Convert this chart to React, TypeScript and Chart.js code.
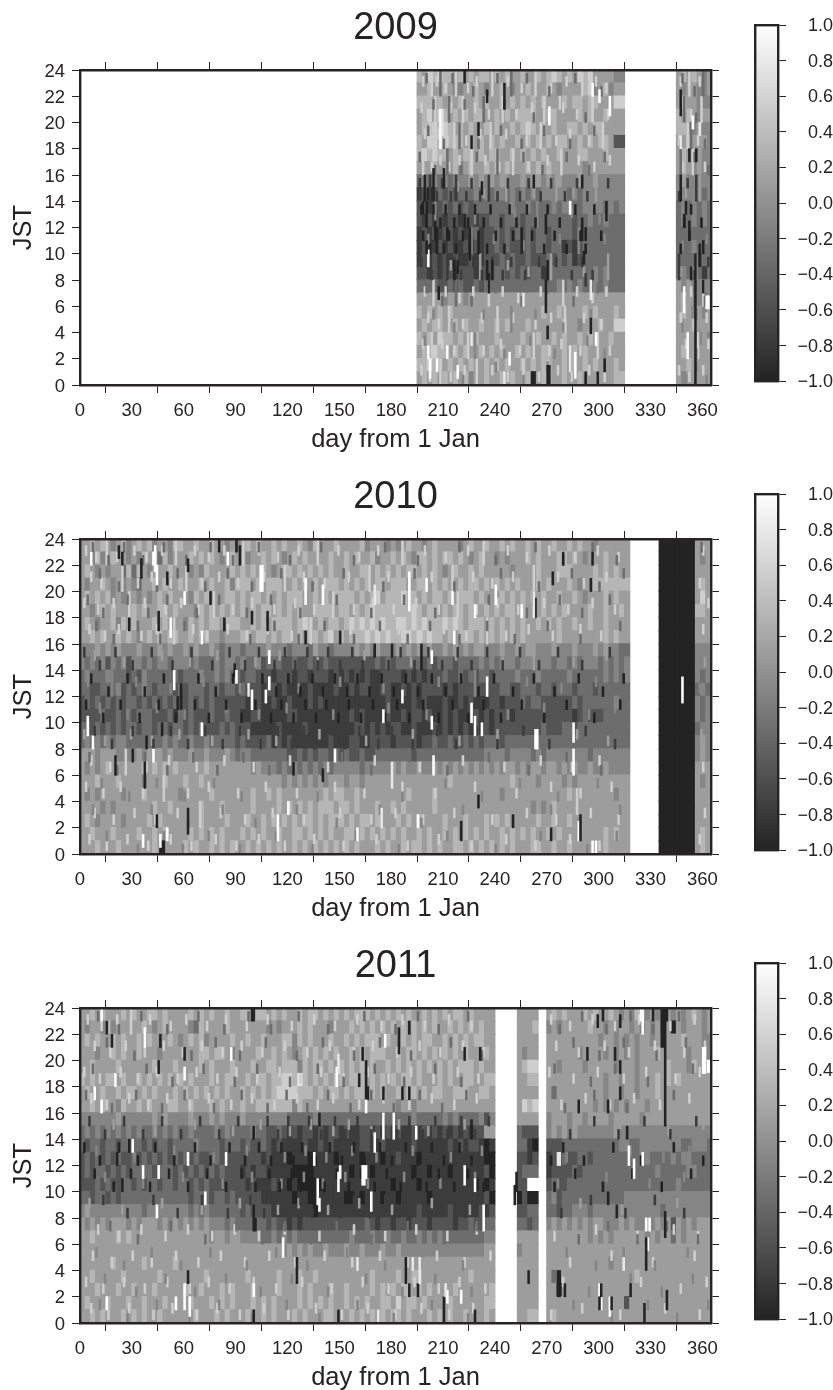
import React, { useEffect, useRef } from "react";
import { Chart, registerables } from "chart.js";
Chart.register(...registerables);

const DAY_TICKS = [0, 30, 60, 90, 120, 150, 180, 210, 240, 270, 300, 330, 360];
const HOUR_TICKS = [0, 2, 4, 6, 8, 10, 12, 14, 16, 18, 20, 22, 24];
const BAR_TICKS = [-1, -0.8, -0.6, -0.4, -0.2, 0, 0.2, 0.4, 0.6, 0.8, 1];
const YEARS = ["2009", "2010", "2011"];
const GRAYS = [35, 60, 84, 109, 133, 157, 182, 206, 231, 255];
const COLUMN_DAYS = 3;

// Rows run from hour 23 (top) down to hour 0. Each digit is a grey level 0-9 for a 3-day column.
const ROWS_2009_A = [
"6576766565 6566565655 6556567656 5767555544","5565565445 5654556545 5655565455 5567456455",
"6665656565 5656556565 6565655565 6656655577","5675765656 5665565656 6665566555 5656556555",
"5667676565 6556565565 6765656556 6565665555","6577676665 6565656556 5656565665 5656566522",
"6767665656 6565665565 6565655655 5665556555","5556555645 6556565655 5656565555 5545555555",
"3434343444 5454545444 5455454544 4544544444","1202323233 3434344343 4343444443 4344444444",
"2312232323 2333333343 3433334344 3344443434","2121212212 2122332333 2333333333 2334334333",
"1212122121 2312232323 2323323333 2333333333","1211212112 1212232322 2323323312 1233333333",
"1212121211 2112223232 2322232323 1233333333","2212122122 2122233232 3233133333 3333434333",
"3333223232 2323333333 3333333434 3433434333","5555545554 5555555555 5555555555 5555555555",
"6565656555 5555555555 5555655655 5565655565","5656655656 5565565655 5655555565 5455565577",
"6565766565 5655565555 6556556565 5656555655","5657665656 5565656556 5655665565 6565555555",
"6676656565 6556565655 6565665565 6565655565","5656565656 4556556565 5605665565 5655555566"];
const ROWS_2009_B = ["5656545","5455445","5655444","6565455","6654544","5565554","5655544","5654544",
"4544444","4444434","3434343","3434343","3333333","3334333","3333233","3434313","5454444","5655434",
"5654545","5556555","5555454","5655555","5565555","5455555"];

const ROWS_2010_A = [
"5565654564 5656455466 5565565545 4565655656 5565465556 5555645554 5456554565 5554565565 5656556565 5655656554 555555",
"5546456554 5465636455 5656565456 5545565654 5656555565 5656556455 6565466565 6656545655 4545556565 5566565455 565555",
"5654545536 3654555655 5454655556 5656565456 6565656565 5655665656 5656656565 4565565655 5554555565 5566655556 565655",
"5455654545 4355656556 5556565564 6665656665 5656565666 5656565665 6665566565 6556566565 6565655565 6555654556 666666",
"5656564545 5454565655 5465655566 5656656565 6665565656 6665656756 6676656566 5656665655 5656565656 5565565455 565655",
"5545656555 6565566565 5546565656 5656566565 6565566665 6656567666 6666765665 6566565565 6566565556 5656555565 565565",
"5654556465 6555656555 4656566566 6556565666 6567656566 5676767676 6776767666 7676566656 5656565565 6565565565 565555",
"5565655656 5456565665 5656655455 5665665656 6565665675 6566676767 6677676766 5656665656 5656565555 5565555555 565655",
"4445454544 4544454544 5454454344 4344445444 3444354434 4445454544 4545454544 5454545544 4544545544 4544454445 454433",
"4343424342 4434344344 4343334344 3433423332 2322322322 2222222323 2333332323 3323333434 3444344444 4344343444 343434",
"3433343332 3243333332 3334334343 3233222122 2122122212 1212121122 2212121222 3223232332 3333433343 3333433333 343434",
"3322333423 2343233323 2333233233 2322212212 1111211112 1121221122 1121212222 1212222222 2332233323 3233323332 333333",
"2323232323 3232323232 2323232222 2212211211 2111212111 1111111112 1111212111 2112121112 2122232332 2222232333 333433",
"2222322323 2333222313 2322232232 2112211111 2211111111 1121211112 1121221211 2121122121 2221222222 2222212322 233333",
"3323232323 3233233233 2323222323 2221111121 1112111111 1112212121 2211211121 2121212121 2222222223 2223323333 333333",
"3434343443 3333334343 3433433333 2322223121 2111111121 1122112222 1222212232 2322323233 3233333333 3333333333 333333",
"5554555444 4545554544 4544544454 3443333333 2232323323 2322322333 3333233333 3333333344 4434444343 4444444434 444444",
"5454565555 5565656565 5555655555 5554544434 3434343434 4444344444 5454454454 5454545454 5455454554 5545454454 454444",
"5556555655 5545556555 6556555555 5555555554 5454545455 5455455555 5555555555 5655555555 5556555545 5554545555 555555",
"5454555545 5565555554 5555565555 5556556565 5555555656 6556555555 5556555565 5555555555 5455555555 5555655555 555455",
"5555454555 5555655655 5556555655 5556555565 6565656665 6656555655 6565555565 5555555555 5555555454 5655555555 555555",
"5654555545 5556565555 5556555565 5565565656 5656656566 6565665655 5656565555 6555655565 6565555565 5655655555 555555",
"5565556555 5655656555 5656565655 5656565565 5665656565 5665656565 6565565655 6565656565 5656565655 6565555555 565655",
"5556555655 5555655555 6565565656 5565656565 5656565656 5656555656 5565665656 5566565656 5656555665 5655655555 565555"];
const ROWS_2010_B = ["0000000","0000000","0000000","0000000","0000000","0000000","0000000","0000000","0000000","0000000","0000000","0000000","0000000","0000000","0000000","0000000","0000000","0000000","0000000","0000000","0000000","0000000","0000000","0000000"];
const ROWS_2010_C = ["555","545","555","565","575","665","555","555","444","444","434","343","434","434","344","454","454","555","545","555","555","555","565","565"];

const ROWS_2011_A = [
"5565655565 6556656555 5656565565 5665665656 5565665656 5656665656 5656556565 6566565555",
"5455464555 5565456555 5436555565 5555554545 5565655545 5565656565 6565656565 5656565655",
"5656556565 5656555654 5656455556 5565565556 6465655565 5656566656 5565656655 6565656655",
"5554556565 5655545555 5556656654 5555655656 5456565656 5565656665 5656656565 6565655565",
"5565555655 5555655565 5556565556 5556556656 6646566565 6565656556 5656565656 5656665655",
"6565566565 5656565656 5655565566 5565665667 7686565656 6566656565 6566565556 5655665566",
"5655655656 6565655565 6565656565 5656565677 7766656566 5656656565 5656656566 5566655665",
"5565655465 5656555665 5655565655 5655666666 6465555555 5555555555 5455455555 5555555555",
"4444444544 4444545444 4544454544 4544444444 3333343333 3333333333 3333433333 4343333424",
"3434343434 3433434343 3433334343 3334332232 1212212122 1211221212 1211212121 2121212255",
"3233233233 3323233233 3343333233 3232232121 1112112121 1111221121 1111211111 1212122101",
"2323232322 3232323232 3232233222 2222212111 0111011110 1111011101 1211101111 1111111100",
"2323323232 3333233323 2323232322 2121221111 1000011111 1101110111 1111011011 1011111120",
"2223232233 2323323323 3232322222 2212111211 0100000111 1111111111 0111101111 1111110101",
"3323323233 3333333333 3233323323 2222211111 1011001111 1001011101 1011111011 1111111120",
"4544444444 4434444444 4343433333 3232222111 1111101111 1111111111 1111121111 1211111212",
"5454545554 5455545454 5454544434 3333332322 1212222222 2222232122 1221222122 2212232233",
"5565555656 5555555555 5555545545 5444433434 3433333333 3343334334 3343343434 3333333344",
"5555555555 5555555555 5555555555 5555555554 5454544544 4544544454 4544444444 4444444455",
"5555556555 5565555565 5555555555 5555555555 5555555555 5555555555 5555555555 5555555555",
"5565555565 5555565555 5555655555 5565555565 5565565555 5555556555 5655665555 5555565555",
"5556555655 6555655555 6556555656 5556555565 5565655565 5655556565 6566565655 5565555556",
"5655565556 5565556555 5655565656 5556565655 5565656565 5656565566 5756656555 5655555566",
"5565655565 6565565555 5565556565 5565565655 5656555665 5565656565 6656555656 5655655565"];
const ROWS_2011_B = ["5555","5556","5555","5455","5677","5566","5555","5767","5555","3222","3310","2212","2333","2299","0200","2233","3323","5555","4555","5555","5555","5555","5555","5566"];
const ROWS_2011_C = [
"5656555656 5565454654 5455454565 45","4545555565 5454554545 4545054555 45","5555555555 4554545455 4565556555 44",
"5555554555 5454545455 5655555455 54","5545555455 5554555455 5556555465 69","5555555555 5455455455 5656565555 55",
"5355555555 5455455455 5655555555 55","5555555554 5454545554 5555555555 55","4555455455 5545555545 5555555555 55",
"4545454444 4445444444 4444444444 44","2223333333 3333443344 4444443344 43","1223223323 3333333344 3333434433 33",
"1222232333 3333333333 3433333443 33","2322333333 3333333333 3333343333 33","3423333333 3333344444 4444444444 44",
"3323344434 4444444444 4434444444 44","4545454545 5444545445 4545254545 55","5555555545 4545555554 5455354555 55",
"5555555555 5555555555 5555555555 55","5555555555 5545555555 5555555555 55","5355555555 5555555655 5555555555 55",
"5505555555 5555555555 5555555555 55","5555555555 5555525555 5555555555 55","5655555555 5555555555 5555555555 55"];

// Narrow single-day marks: [day, hour, hours long, grey level]
const MARKS_2009: number[][] = [
[269,5.5,2.5,0],[270,0,1.5,0],[271,0,1.5,0],[355.5,0,10,0],[295,3.9,1.2,0],[290,11,1,0],[292,11,1,0],[291,9.2,1,0],[292,7.5,1,1],
[283,13,1,9],[201,9,1.3,9],[271,19.8,1.4,9],[362,5.8,1,9],[363,5.8,1,9],[306,20.5,1.5,9],[208,18,3,9],[209,19,2,8],[232,14.5,1,0],[204,14,2.5,0],[199,14,2,0],[210,15,1.5,0],
[269,11.5,1.5,0],[270,8,1.5,0],[235,8,1.5,0],[236,7,1.5,0],[238,8,1.5,0],[216,8,1.5,0],[218,8.5,1,0],[200,10,1,0],[205,11,1.5,0],[212,11,1,0],[222,12,1,0],[225,9.5,2,0],[230,10,1,0],
[198,13,1,0],[245,21,2,0],[235,21.5,1,0],[222,23,1,0],[226,18,1,0],[230,19,1,0],[262,15,1,0],[290,15,1,0],[304,12.5,1.5,0],[277,21,1,7],[300,21.5,1,9],[296,22,1,9],
[256,6,1,8],[226,3,1,8],[206,1,1,9],[212,2,1,9],[248,1.5,1,9],[286,0.5,2,9],[283,1,2,8],[298,3,1,9],[303,1,1,0],[299,0,1,0],[270,3.5,1,0],[292,0,1,0],[245,0,1,8],[218,0.5,1,9],[202,0.5,1.5,9],
[201,2,1,9],[207,6.5,1,0],[295,6.5,1.5,8],[347,14,2,0],[350,13,1,0],[352,17,1,0],[356,17,1,0],[358,9,1,0],[347,18,1,8],[354,19.5,1,9],[358,19,1,8],[347,20.5,2,0],[351,2,2,9],[349,5.5,2,9],[360,10,1,0],
[349,12,1,0],[352,11,1.5,0],[353,8,1,0],[349,12,1,0],[360,7,1,0]];
const MARKS_2010: number[][] = [
[348,11.5,2,9],[263,18,1.5,0],[262,19,1,1],[279,22,1,0],[273,20.5,1,0],[295,20,1,0],[296,22,1,0],[42,22,1,9],[43,21.5,2,9],[44,20.5,1.5,9],[92,22,1.5,0],[90,23,1,0],[104,20,2,9],[105,20,2,9],
[6,22,1,9],[22,22.5,1,0],[24,22,1,0],[35,21,1.5,0],[50,20.5,1,0],[62,21.5,1,0],[75,19,1,0],[60,19,1,9],[80,23,1,0],[85,22,1,9],[130,19,2,9],[140,19,1.5,9],[170,19,1.5,8],[190,20,1.5,9],
[45,17,1.5,0],[28,17,1,0],[52,16.5,1.5,9],[70,16,1,9],[83,17,1,0],[99,17.5,1,0],[108,17,1.5,0],[130,16,1,0],[150,16,1,0],[170,15,1,0],[180,15,1,0],[197,14,2,0],[203,14.5,1,9],
[89,13.5,1,0],[90,13,1,9],[109,14.5,1,9],[109,12.5,1,9],[54,12.5,1.5,9],[107,11.5,1,9],[99,11,1.5,9],[97,12,1,8],[70,9,1,9],[58,11,2,0],[56,11,1,0],[4,9,1.5,9],[7,8,1,9],[42,7,1,9],[47,9,1,0],
[30,7,1,0],[38,8,1,0],[20,6,1.5,0],[37,5,2,0],[62,1.5,2,0],[50,1,1,9],[44,2,1,0],[46,0,1,0],[47,0,1,0],[48,0,1,0],[46,0.5,1,9],[36,0.5,1,9],[114,1,2,9],[120,3,1,9],
[226,10,1.5,9],[228,9,1.5,9],[232,9,1,9],[235,12,1.5,9],[263,8,1.5,9],[264,8,1.5,9],[285,6,2,9],[285,8.5,1.5,9],[287,3,2,7],[288,1,1.5,9],[289,1,2,0],[296,0,1,9],[298,0,1,9],[203,9.5,1,9],[186,11.5,1,9],[175,10,1,9],
[216,16,1,9],[228,18,1,9],[240,19,1.5,9],[255,18,1,9],[262,18,2,8],[200,20,1,9],[215,19,1,9],[190,18.5,1.5,9],[204,6,1.5,9],[180,5,2,8],[174,2,1.5,8],[195,2,1,9],[230,3.5,1,0],[220,1,1.5,0],[250,2,1,0],[272,1,1,0],[160,1,1,9],[123,6,1,0],[147,7,1,9],[140,5.5,1,0]];
const MARKS_2011: number[][] = [
[338,15,9,0],[337,21,3,0],[336,21,3,0],[339,23,1,0],[312,22.5,1,0],[299,22.5,1,0],[305,9,1,0],[310,8,1,0],[317,12,1.5,9],[327,7,1,9],[328,5.5,1,9],[327,5.5,1,0],[327,4,1.5,0],[326,0,1.5,0],[329,7,1,9],[360,19,2,9],[361,19,2,9],
[338,6.5,2,0],[339,1,1.5,0],[300,2,1,9],[301,1,1,9],[306,0.5,1.5,9],[307,1,1,0],[300,1,1,0],[301,2,1,0],[276,2,2,0],[277,2,2,0],[280,2,1,0],[324,23,1,9],[325,22,2,9],[302,23,1,0],[318,2,1,0],[331,23,1,0],
[251,9,1.5,0],[252,10,1.5,0],[259,3,1,0],[276,12,1,8],[277,12,1,8],[325,12,1,9],[320,11,1.5,9],[314,4,1,8],[312,17,1,0],[305,16,1,0],[316,14,1,0],[288,16,1,0],[293,20,1,0],[309,20,1,0],[312,19,1,0],
[44,8,1,9],[231,20,1,0],[222,20,1,0],[190,22,1,0],[184,20.5,2,0],[176,21,1,9],[138,15,1,0],[135,12,1,9],[137,9,2,9],[138,8.5,1,9],[149,10,1.5,9],[150,11,1,9],[163,10.5,1.5,9],[164,10.5,1.5,9],[165,11,1,9],[168,8.5,1.5,9],[170,13,1.5,9],[175,14,2,9],[181,14,2,9],
[148,18,1.5,9],[149,19,1.5,8],[163,20,1,0],[161,18,1,0],[165,17,2,0],[166,17,1,0],[165,19,1,0],[165,16,1,9],[175,17,1,0],[186,17,1,0],[190,17,1,0],[226,14,1.5,0],[228,10,1,9],[222,10.5,1.5,9],[233,7,2,9],[194,14,1,9],
[100,14,1,0],[84,12,1,9],[100,7,2,0],[101,7,1,0],[62,12,1,9],[72,9,1,9],[36,11,1,9],[45,11,1,9],[30,13,1,9],[12,23,1,9],[15,22,1,0],[18,21,1,0],[37,21,1.5,9],[46,21,1,0],[60,20,1,0],[87,20,1,9],[60,18.5,1,9],[45,19,1,0],[99,23,1,0],[100,23,1,0],
[20,18,1,9],[8,17,1,9],[12,16,1,9],[28,13,1,0],[21,12,1,0],[24,10,1,0],[60,1,2,9],[62,3,1,0],[100,2,1,9],[117,5,1.5,9],[125,3,2,0],[160,4,1,8],[188,3,2,0],[190,2,1,0],[192,4,1,8],[195,2,1,0],[196,3,2,8],[210,0,2,0],[212,1.5,1,9],[211,2,1,8],[220,1.5,1,9],[228,0,1,0],[172,0,1,8],[149,0,1,0],[100,0,1,0],[15,1,1,9],[55,1,1,9],[63,0.5,1.5,9]];

// Streak days, one list per 2-hour band from hours 22-24 down to 0-2. A .5 day is a 2-hour streak.
const BANDS = [22, 20, 18, 16, 14, 12, 10, 8, 6, 4, 2, 0];
const LIGHT_LEVEL = [7, 7, 7, 7, 5, 4, 4, 5, 7, 7, 7, 7];
const DARK_LEVEL = [3, 3, 3, 3, 1, 0, 0, 1, 3, 4, 4, 4];
const LIGHT_2009 = [
[198,203.5,206,211,217.5,224,229,238.5,247,255,263.5,272,281,290.5,298,304,347,352.5,358],
[197,201,205.5,209,214,221.5,228,236,244.5,252,261,268.5,279,287,296.5,305,349,353,359.5],
[199,202.5,207,212,216.5,223,231,237.5,246,258,266.5,275,283,294,302.5,346,351.5,357],
[198.5,203,208,213,219,226.5,234,242,250.5,259,270,278.5,288,297,306,348,354.5,361],
[218,233,246.5,262,275.5,285,298.5,350,358.5],
[205.5,228,251,264.5,284,300,354],
[201,226.5,239,256,277,288.5,303,348,362],
[214,231.5,247,259,272.5,291,305.5,347,356.5],
[199,204.5,211,219,227,236.5,244,253,266,279.5,287,296,304,349,353,360.5],
[201,207,213.5,221,232,241.5,250,263,272,280.5,291,301,347,355,362],
[198,203.5,209,216,224.5,233,243,254,262.5,271,278,289,299.5,306,350,357.5,363],
[197,202,208.5,214,222,229.5,238,247,256.5,265,276,284,294,303,346,352,360]];
const DARK_2009 = [
[200,208.5,215,227,241,249.5,258,271,286,301,348,355,360.5],
[204,213.5,222,233.5,245,262,277,292,349.5,356],
[201,210,219.5,230,243,255,268,283,297,347,353.5,361],
[196,205,212.5,220,229,241.5,256,267,281,294,303,347.5,355,363],
[196,199,202.5,206,209,214,217.5,223,226,231,236.5,241,247,254,259,266,272,280,287,293,305,346,351,356.5],
[197,200.5,204,208,211,216,219,224,228,233,237,243,248,252,258,263,270,277,286,290,297,349,353,359],
[198,202,206.5,210,213,217,221,225.5,230,235,240,245,250,255.5,261,268,274,281,289,292,301,347,352,358],
[197,203,207,212.5,216,220,227,232,238,244,249,257,265,269,275,284,290,296,346.5,355,363],
[200,209,217.5,226,240,255,270,285,299,349,355.5,361],
[204,216,233,249.5,263,279,295,348,356],
[199,212,228.5,245,260,274,293,303,351,356],
[206,221,240,256,270,292,303,350,356,362]];
const LIGHT_2010 = [
[3,9,15.5,21,31,38,47,55.5,66,74,83,94.5,103,114,126,137.5,149,161,172,186.5,199,211,224,233.5,247,258,271,286,299,311,360],
[6,12,24.5,33,41,52,61.5,70,80,91,106,118.5,129,141,155,167.5,178,190,203,215.5,227,238,250,262.5,276,291,304,358],
[2,10,19,28.5,37,49,58,68,77.5,88,99,112,124,135,146.5,158,169,181,194,207,218.5,229,241,253,268,282,296,309,363],
[5,14,22,35,44,54.5,65,73,85,96,108,122,133.5,144,156,171,184,197,210,223,235.5,246,259,273,289,301,360],
[8,25,47,63,79,101,115,137,164,191,217,244,262.5,285,304,361],
[4,18.5,32,52,71,92,109,126,150,175,207,228.5,258,278,298,358],
[11,27,44,60,84,103,119,146,178,200,226,247,268,294,309,362],
[2,14,29,41,57,76,97,113,138,165,192,219,241,263,287,305,359],
[6,17,26.5,38,51,67,83,100,121,143,170,196,221,245,266,284,300,360],
[3,13,23,36,48.5,62,74,91,107,125,147,164,186,205,228,252,272,289,307],
[8,19,31,43,56,69.5,81,95,111,129,150,168,182,198,216,238,258,275,295,311,361],
[5,15,27,39,52,64,78,90,103,118,135,152,171,189,207,226,246,263,283,300,358]];
const DARK_2010 = [
[7,16,25,36,48,61,75,88,103,121,139,158,176,195,219,240,263,279,296,310,359],
[11,22,31,44,56,72,85,99,116,134,152,175,193,216,243,265,284,300,314],
[4,13,27,39,50,67,80,96,110,127,148,168,187,205,236,258,277,290,306],
[9,19,33,46,60,70,83,98,112,126,141,158,173,189,202,219,235,251,270,289,312],
[2,11,20,30,41,53,64,76,86,95,103,112,118,124,131,137,143,150,157,163,170,178,185,193,201,209,218,226,235,244,254,265,276,290,306],
[6,16,27,37,48,58,68,78,88,97,105,113,120,127,134,140,147,154,160,167,174,181,188,195,203,211,220,230,239,250,262,274,288,302,314],
[3,13,23,34,45,55,66,74,84,93,101,110,116,123,130,136,142,149,155,162,169,176,183,190,198,207,215,224,233,243,255,268,281,297,312],
[8,18,30,42,52,62,72,82,92,104,114,122,129,135,146,153,161,172,180,192,206,217,229,241,256,271,292,309],
[5,21,37,50,65,79,94,109,126,139,151,168,190,212,236,259,281,301],
[12,28,44,60,77,93,117,137,163,186,211,232,254,276,299],
[7,24,41,62,82,101,125,148,173,197,221,250,272,288,312],
[15,33,48,59,74,92,113,134,159,184,212,240,266,293,310]];
const LIGHT_2011 = [
[4,12,21,29.5,40,52,61,73,84,96,108,122,135,147,160,174,186,199,213,226,272,283,296,309,323,341,355],
[8,17,26,37,48,59,70,82,93,105,118,131,144,158,169,183,196,208,221,233,275,288,303,317,332,349,361],
[2,11,23,33,44,56,67,79,90,102,115,127,139,152,166,178,191,204,218,230,271,285,299,314,327,344,358],
[6,15,28,39,50,63,74,87,99,112,125,137,146,161,175,190,203,216,229,278,292,306,320,335,352],
[19,43,66,88,104,121,133,146,155,168,184,201,222,286,312,340,360],
[9,31,54,77,96,118,130,142,157,171,192,214,232,281,318,337,352],
[14,36,59,82,99,116,129,140,153,166,187,208,228,276,304,329,349],
[5,24,47,70,92,114,126,143,161,180,203,225,289,313,345],
[10,22,35,49,62,76,89,103,118,138,158,176,194,212,229,274,298,322,343,357],
[7,18,30,41,55,68,81,95,109,124,141,157,173,189,206,222,237,283,307,331,355],
[3,13,25,37,50,63,74,86,100,113,128,145,163,178,193,207,219,234,279,301,324,347,362],
[6,16,28,42,53,67,79,92,106,120,136,151,166,182,197,213,227,272,290,312,338,358]];
const DARK_2011 = [
[10,22,35,50,68,83,97,110,126,143,164,182,195,207,224,277,290,304,318,331,346],
[15,31,46,64,78,92,107,125,140,158,173,191,214,232,285,300,314,333,350],
[7,20,38,53,71,89,102,121,137,152,170,187,205,220,274,295,309,328,354],
[3,18,32,47,60,77,93,108,119,131,143,156,168,181,196,209,223,280,297,316,343],
[5,14,25,36,47,58,69,80,91,100,108,114,120,126,132,139,147,153,160,168,175,183,190,198,205,212,220,228,236,283,297,311,326,341,356],
[2,11,22,33,43,54,66,75,86,95,103,110,116,123,128,136,144,151,158,164,173,180,188,195,203,210,219,226,235,272,279,291,308,324,343,360],
[8,19,29,40,51,62,73,84,93,101,109,115,122,127,134,141,148,155,162,170,177,185,192,200,207,216,224,233,238,274,286,302,319,336,353],
[13,27,42,56,70,85,98,106,113,120,127,134,142,150,158,167,176,184,194,202,211,222,231,278,295,315,332,349],
[17,33,52,72,90,105,118,133,148,168,189,210,229,288,305,322,339,357],
[9,25,41,58,75,96,113,131,154,176,198,221,281,298,314,332,351],
[14,32,49,66,84,104,122,143,165,186,205,226,276,294,318,336,354],
[11,27,44,63,80,99,119,138,160,181,203,224,285,307,328,345,363]];

const BLOCKS = [
  [{ start: 195, rows: ROWS_2009_A }, { start: 345, rows: ROWS_2009_B }],
  [{ start: 0, rows: ROWS_2010_A }, { start: 335, rows: ROWS_2010_B }, { start: 356, rows: ROWS_2010_C }],
  [{ start: 0, rows: ROWS_2011_A }, { start: 253, rows: ROWS_2011_B }, { start: 270, rows: ROWS_2011_C }],
];
const MARKS = [MARKS_2009, MARKS_2010, MARKS_2011];
const LIGHT = [LIGHT_2009, LIGHT_2010, LIGHT_2011];
const DARK = [DARK_2009, DARK_2010, DARK_2011];

const INK = "#262324";
const FONT = "'Liberation Sans', Arial, sans-serif";
const gray = (g: number) => `rgb(${g},${g},${g})`;
const fixed = (size: number, horizontal: boolean) => (s: any) => {
  if (horizontal) s.height = size; else s.width = size;
};
const setTicks = (list: number[]) => (s: any) => { s.ticks = list.map((value) => ({ value })); };

function axisBase(list: number[], min: number, max: number) {
  return {
    min, max, offset: false, afterBuildTicks: setTicks(list),
    grid: { drawOnChartArea: false, drawTicks: true, tickLength: 8, tickColor: INK, tickWidth: 1 },
    border: { color: INK, width: 2.4, z: 2 },
    ticks: { display: false, color: INK, font: { family: FONT, size: 18.5 }, autoSkip: false, maxRotation: 0, minRotation: 0 },
  };
}

function streaks(lists: number[][], levels: number[], shift: number) {
  const data: any[] = [];
  const colors: string[] = [];
  lists.forEach((days, b) => {
    days.forEach((d, k) => {
      const long = d % 1 !== 0;
      const start = long ? BANDS[b] : BANDS[b] + (k % 2 ? shift : 1 - shift);
      data.push({ x: long ? d : d + 0.5, y: [start, start + (long ? 2 : 0.75)] });
      colors.push(gray(GRAYS[levels[b]]));
    });
  });
  return { data, colors };
}

function panelConfig(i: number) {
  const cellData: any[] = [];
  const cellColors: string[] = [];
  BLOCKS[i].forEach((b) => {
    b.rows.forEach((row, r) => {
      const hour = 23 - r;
      row.replace(/ /g, "").split("").forEach((c, k) => {
        cellData.push({ x: b.start + (k + 0.5) * COLUMN_DAYS, y: [hour, hour + 1.03] });
        cellColors.push(gray(GRAYS[+c]));
      });
    });
  });
  const light = streaks(LIGHT[i], LIGHT_LEVEL, 0.25);
  const dark = streaks(DARK[i], DARK_LEVEL, 0);
  const markData = MARKS[i].map((m) => ({ x: m[0] + 0.5, y: [m[1], m[1] + m[2]] }));
  const markColors = MARKS[i].map((m) => gray(GRAYS[m[3]]));
  const x = axisBase(DAY_TICKS, 0, 365) as any;
  const y = axisBase(HOUR_TICKS, 0, 24) as any;
  const thin = { borderWidth: 0, barThickness: 1.9, grouped: false };
  return {
    type: "bar",
    data: {
      datasets: [
        { data: cellData, backgroundColor: cellColors, borderWidth: 0, barThickness: 5.6, grouped: false, order: 4 },
        { data: light.data, backgroundColor: light.colors, ...thin, order: 3 },
        { data: dark.data, backgroundColor: dark.colors, ...thin, order: 2 },
        { data: markData, backgroundColor: markColors, ...thin, order: 1 },
      ],
    },
    options: {
      animation: false, responsive: false, devicePixelRatio: 1,
      layout: { padding: { right: 21 } },
      plugins: {
        legend: { display: false }, tooltip: { enabled: false },
        title: {
          display: true, text: YEARS[i], fullSize: false, color: INK,
          font: { family: FONT, size: 38, weight: "normal" }, padding: { top: 6, bottom: 1.6 },
        },
      },
      scales: {
        x: {
          ...x, type: "linear", position: "bottom", afterFit: fixed(70, true),
          ticks: { ...x.ticks, display: true, padding: 6.5 },
          title: { display: true, text: "day from 1 Jan", color: INK, font: { family: FONT, size: 25.5 }, padding: { top: 0, bottom: 0 } },
        },
        xTop: { ...x, type: "linear", position: "top", afterFit: fixed(16.8, true) },
        y: {
          ...y, type: "linear", position: "left", afterFit: fixed(80, false),
          ticks: { ...y.ticks, display: true, padding: 7, labelOffset: 1.5 },
          title: { display: true, text: "JST", color: INK, font: { family: FONT, size: 25.5 }, padding: { top: 9, bottom: 0 } },
        },
        yRight: { ...y, type: "linear", position: "right", afterFit: fixed(8, false) },
      },
    },
  };
}

function barConfig() {
  const plain = { grid: { display: false }, border: { color: INK, width: 2.4, z: 2 }, ticks: { display: false } };
  return {
    type: "bar",
    data: {
      datasets: [{
        data: [{ x: 0.5, y: [-1, 1] }], borderWidth: 0, barThickness: 40,
        backgroundColor: (ctx: any) => {
          const s = ctx.chart.scales.y;
          const a = s ? s.getPixelForValue(-1) : NaN;
          const b = s ? s.getPixelForValue(1) : NaN;
          if (!Number.isFinite(a) || !Number.isFinite(b)) return gray(GRAYS[5]);
          const g = ctx.chart.ctx.createLinearGradient(0, a, 0, b);
          g.addColorStop(0, gray(GRAYS[0]));
          g.addColorStop(1, gray(GRAYS[9]));
          return g;
        },
      }],
    },
    options: {
      animation: false, responsive: false, devicePixelRatio: 1,
      layout: { padding: { left: 10, top: 25, bottom: 14 } },
      plugins: { legend: { display: false }, tooltip: { enabled: false } },
      scales: {
        x: { ...plain, type: "linear", min: 0, max: 1, offset: false, position: "bottom", afterFit: fixed(0, true) },
        xTop: { ...plain, type: "linear", min: 0, max: 1, offset: false, position: "top", afterFit: fixed(0, true) },
        yLeft: { ...plain, type: "linear", min: -1, max: 1, position: "left", afterFit: fixed(0, false) },
        y: {
          type: "linear", min: -1, max: 1, position: "right", afterBuildTicks: setTicks(BAR_TICKS), afterFit: fixed(55, false),
          grid: { drawOnChartArea: false, drawTicks: true, tickLength: 8, tickColor: INK, tickWidth: 1 },
          border: { color: INK, width: 2.4, z: 2 },
          ticks: {
            color: INK, font: { family: FONT, size: 18 }, padding: 8, crossAlign: "far", autoSkip: false, labelOffset: 1,
            callback: (v: number) => Number(v).toFixed(1).replace("-", "\u2212"),
          },
        },
      },
    },
  };
}

const STEP = 469;

export default function App() {
  const panels = useRef<(HTMLCanvasElement | null)[]>([]);
  const bars = useRef<(HTMLCanvasElement | null)[]>([]);
  useEffect(() => {
    const charts: Chart[] = [];
    YEARS.forEach((_, i) => {
      charts.push(new Chart(panels.current[i]!, panelConfig(i) as any));
      charts.push(new Chart(bars.current[i]!, barConfig() as any));
    });
    return () => charts.forEach((c) => c.destroy());
  }, []);
  return (
    <div style={{ position: "absolute", left: 0, top: 0, width: 833, height: 1390, overflow: "hidden", background: "#fff" }}>
      {YEARS.map((year, i) => (
        <React.Fragment key={year}>
          <canvas ref={(el) => { panels.current[i] = el; }} width={740} height={455}
            style={{ position: "absolute", left: 0, top: i * STEP, display: "block" }} />
          <canvas ref={(el) => { bars.current[i] = el; }} width={88} height={400}
            style={{ position: "absolute", left: 745, top: i * STEP, display: "block" }} />
        </React.Fragment>
      ))}
    </div>
  );
}
